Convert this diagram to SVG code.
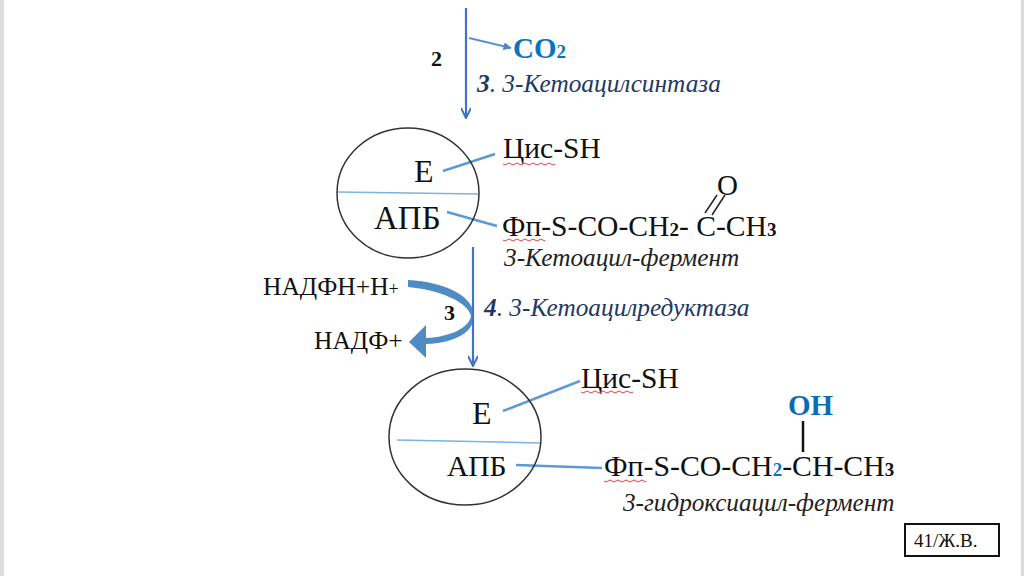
<svg xmlns="http://www.w3.org/2000/svg" width="1024" height="576" viewBox="0 0 1024 576">
<style>
text{font-family:"Liberation Serif","Times New Roman",serif;fill:#111}
.it{font-style:italic;fill:#222}
.enz{font-style:italic;fill:#1F3864}
.b{font-weight:bold}
.el{fill:none;stroke:#333;stroke-width:1.5}
.ln{stroke:#5B9BD5;stroke-width:2.5;fill:none}
.div{stroke:#7FB2DC;stroke-width:1.5;fill:none}
.flow{stroke:#4472C4;stroke-width:2.2;fill:none}
.wave{stroke:#E0404A;stroke-width:1;fill:none}
</style>
<defs>
<marker id="chev" viewBox="0 0 12 10" refX="11" refY="5" markerWidth="12" markerHeight="10" markerUnits="userSpaceOnUse" orient="auto"><path d="M1 0L11 5L1 10" fill="none" stroke="#4472C4" stroke-width="2"/></marker>
<marker id="tri" viewBox="0 0 8 8" refX="7.5" refY="4" markerWidth="8" markerHeight="8" markerUnits="userSpaceOnUse" orient="auto"><path d="M0 0L8 4L0 8z" fill="#4A86C5"/></marker>
</defs>
<rect width="1024" height="576" fill="#fff"/>
<rect width="4" height="576" fill="#DDD"/>
<rect x="1021" width="3" height="576" fill="#DDD"/>
<g id="connectors">
<path d="M408 280C445 282 474 296 474 316C474 332 455 343 426 344V358L409 342L426 325V338C450 337 469 328 471 316C468 302 440 290 408 287Z" fill="#4F8CC4"/>
<path class="flow" d="M466 8V118" marker-end="url(#chev)"/>
<path d="M469 38L511 48" stroke="#5B8FCB" stroke-width="2" fill="none" marker-end="url(#tri)"/>
<path class="ln" d="M443 171L495 154"/>
<path class="ln" d="M447 212L497 226"/>
<path class="flow" d="M473 247V366" marker-end="url(#chev)"/>
<path class="ln" d="M503 411L580 381"/>
<path class="ln" d="M516 465L602 468"/>
<path d="M705 213L717 195M712 215L725 195" stroke="#222" stroke-width="1.5" fill="none"/>
<path d="M803 421V452" stroke="#111" stroke-width="2.5" fill="none"/>
</g>
<g id="co2"><text x="513" y="58" class="b" font-size="29" style="fill:#0A73BE">CO<tspan font-size="19">2</tspan></text></g>
<g id="label-2"><text x="431" y="66" class="b" font-size="22">2</text></g>
<g id="enzyme-3"><text x="477" y="92" class="enz" font-size="25.3"><tspan class="b">3</tspan>. 3-Кетоацилсинтаза</text></g>
<g id="node-1">
<ellipse class="el" cx="408" cy="193" rx="71" ry="65"/>
<path class="div" d="M338 192L478 194"/>
<text x="414" y="182" font-size="32">Е</text>
<text x="374" y="229" font-size="33">АПБ</text>
</g>
<g id="cys-1"><text x="503" y="158" font-size="29.5">Цис-SH</text><path class="wave" d="M503 164q2 2 4 0t4 0t4 0t4 0t4 0t4 0t4 0t4 0t4 0t4 0t4 0t4 0t4 0"/></g>
<g id="chain-1">
<text x="502" y="236" font-size="29.6">Фп-S-CO-CH<tspan font-size="19" class="b">2</tspan>- С-CH<tspan font-size="19" class="b">3</tspan></text>
<text x="717" y="195" font-size="29">О</text>
<path class="wave" d="M503 240q2 2 4 0t4 0t4 0t4 0t4 0t4 0t4 0t4 0t4 0t4 0t2 0"/>
</g>
<g id="name-1"><text x="504" y="266" class="it" font-size="25.3">3-Кетоацил-фермент</text></g>
<g id="nadph"><text x="263" y="295" font-size="25.5">НАДФН+Н<tspan font-size="18">+</tspan></text></g>
<g id="nadp"><text x="314" y="349" font-size="25.5">НАДФ+</text></g>
<g id="label-3"><text x="444" y="320" class="b" font-size="22">3</text></g>
<g id="enzyme-4"><text x="484" y="316" class="enz" font-size="25.3"><tspan class="b">4</tspan>. 3-Кетоацилредуктаза</text></g>
<g id="node-2">
<ellipse class="el" cx="465" cy="437" rx="76" ry="68"/>
<path class="div" d="M397 440L540 443"/>
<text x="472" y="424" font-size="32">Е</text>
<text x="447" y="476" font-size="29.5">АПБ</text>
</g>
<g id="cys-2"><text x="581" y="388" font-size="29.5">Цис-SH</text><path class="wave" d="M581 392q2 2 4 0t4 0t4 0t4 0t4 0t4 0t4 0t4 0t4 0t4 0t4 0t4 0t4 0"/></g>
<g id="chain-2">
<text x="604" y="476" font-size="29.8">Фп-S-CO-CH<tspan font-size="19" class="b" style="fill:#0A73BE">2</tspan>-CH-CH<tspan font-size="19" class="b">3</tspan></text>
<path class="wave" d="M604 481q2 2 4 0t4 0t4 0t4 0t4 0t4 0t4 0t4 0t4 0t4 0t2 0"/>
</g>
<g id="oh"><text x="788" y="415" class="b" font-size="29" style="fill:#0A6CB5">OH</text></g>
<g id="name-2"><text x="623" y="511" class="it" font-size="25.2">3-гидроксиацил-фермент</text></g>
<g id="page"><rect x="905" y="524" width="94" height="32" fill="#fff" stroke="#111" stroke-width="2"/><text x="914" y="547" font-size="19">41/Ж.В.</text></g>
</svg>
